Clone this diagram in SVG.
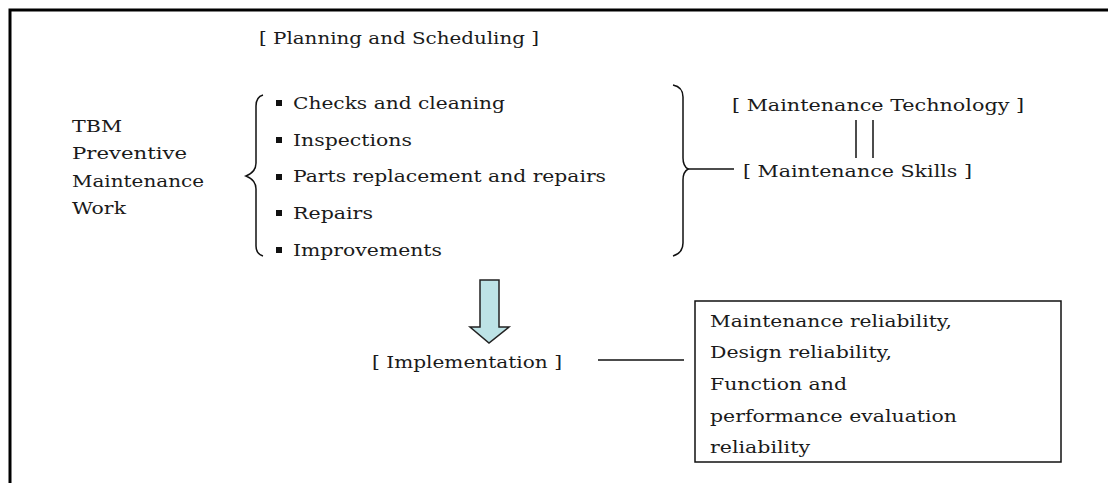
<svg xmlns="http://www.w3.org/2000/svg" width="1108" height="483" viewBox="0 0 1108 483">
  <style>
    .t { font-family: "DejaVu Serif", "Liberation Serif", serif; font-size: 17.5px; fill: #1a1a1a; }
    .ln { stroke: #111; stroke-width: 1.5; fill: none; }
    .frame { stroke: #000; stroke-width: 3; fill: none; }
    .dot { fill: #111; }
  </style>
  <rect width="1108" height="483" fill="#fff"/>
  <!-- page frame: top and left edges -->
  <path class="frame" d="M10,483 V10 H1108"/>

  <g id="planning">
    <text class="t" x="259" y="44" textLength="280" lengthAdjust="spacingAndGlyphs">[ Planning and Scheduling ]</text>
  </g>

  <g id="tbm">
    <text class="t" x="72" y="132" textLength="50" lengthAdjust="spacingAndGlyphs">TBM</text>
    <text class="t" x="72" y="159" textLength="115" lengthAdjust="spacingAndGlyphs">Preventive</text>
    <text class="t" x="72" y="187" textLength="132" lengthAdjust="spacingAndGlyphs">Maintenance</text>
    <text class="t" x="72" y="214" textLength="54" lengthAdjust="spacingAndGlyphs">Work</text>
  </g>

  <g id="tasks">
    <rect class="dot" x="276" y="100" width="6" height="6"/>
    <rect class="dot" x="276" y="137" width="6" height="6"/>
    <rect class="dot" x="276" y="174" width="6" height="6"/>
    <rect class="dot" x="276" y="210" width="6" height="6"/>
    <rect class="dot" x="276" y="247" width="6" height="6"/>
    <text class="t" x="293" y="109" textLength="212" lengthAdjust="spacingAndGlyphs">Checks and cleaning</text>
    <text class="t" x="293" y="146" textLength="119" lengthAdjust="spacingAndGlyphs">Inspections</text>
    <text class="t" x="293" y="182" textLength="313" lengthAdjust="spacingAndGlyphs">Parts replacement and repairs</text>
    <text class="t" x="293" y="219" textLength="80" lengthAdjust="spacingAndGlyphs">Repairs</text>
    <text class="t" x="293" y="256" textLength="149" lengthAdjust="spacingAndGlyphs">Improvements</text>
  </g>

  <g id="tech">
    <text class="t" x="732" y="111" textLength="292" lengthAdjust="spacingAndGlyphs">[ Maintenance Technology ]</text>
  </g>

  <g id="skills">
    <text class="t" x="743" y="177" textLength="229" lengthAdjust="spacingAndGlyphs">[ Maintenance Skills ]</text>
  </g>

  <g id="implementation">
    <text class="t" x="372" y="368" textLength="190" lengthAdjust="spacingAndGlyphs">[ Implementation ]</text>
  </g>

  <g id="reliability">
    <rect x="695" y="301" width="366" height="161" fill="#fff" stroke="#111" stroke-width="1.5"/>
    <text class="t" x="710" y="327" textLength="242" lengthAdjust="spacingAndGlyphs">Maintenance reliability,</text>
    <text class="t" x="710" y="358" textLength="182" lengthAdjust="spacingAndGlyphs">Design reliability,</text>
    <text class="t" x="710" y="390" textLength="137" lengthAdjust="spacingAndGlyphs">Function and</text>
    <text class="t" x="710" y="422" textLength="247" lengthAdjust="spacingAndGlyphs">performance evaluation</text>
    <text class="t" x="710" y="453" textLength="100" lengthAdjust="spacingAndGlyphs">reliability</text>
  </g>

  <g id="connectors">
    <!-- left brace grouping the tasks -->
    <path class="ln" d="M263,95 Q256,97 256,106 V163 Q256,172 246,176 Q256,180 256,189 V246 Q256,254 263,256"/>
    <!-- right brace -->
    <path class="ln" d="M673,85 Q683,87 683,97 V158 Q683,166 688,169 Q683,172 683,180 V243 Q683,253 673,256"/>
    <line class="ln" x1="688" y1="169" x2="734" y2="169"/>
    <!-- technology equals skills -->
    <line class="ln" x1="856" y1="120" x2="856" y2="158"/>
    <line class="ln" x1="873" y1="120" x2="873" y2="158"/>
    <!-- planning flows down to implementation -->
    <path d="M480,280 H499 V327 H509 L489,343 L470,327 H480 Z" fill="#bde3e6" stroke="#222" stroke-width="1.5"/>
    <!-- implementation to reliability box -->
    <line class="ln" x1="598" y1="360" x2="684" y2="360"/>
  </g>
</svg>
